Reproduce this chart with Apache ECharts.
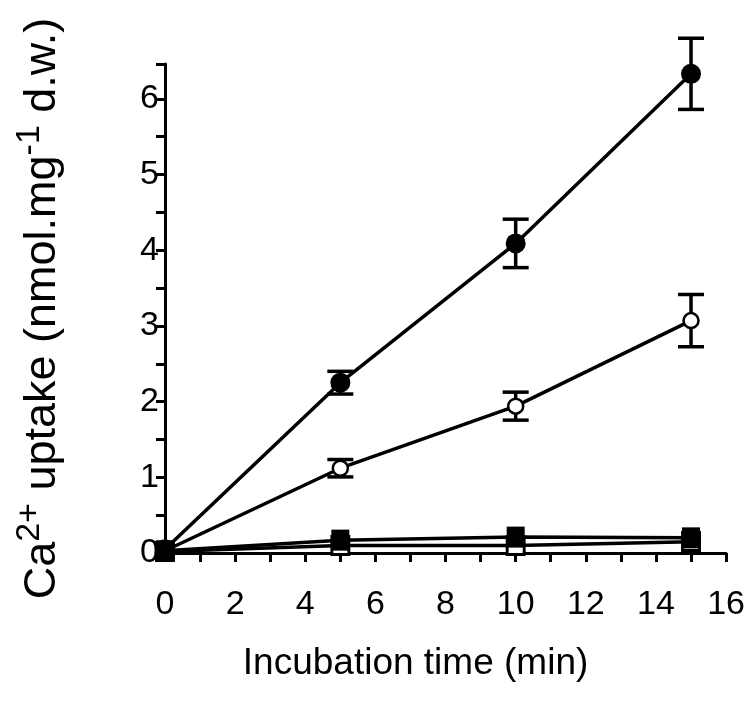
<!DOCTYPE html>
<html>
<head>
<meta charset="utf-8">
<script src="https://cdn.jsdelivr.net/npm/echarts@6/dist/echarts.min.js"></script>
<style>
html,body{margin:0;padding:0;background:#fff;}
#chart{width:748px;height:704px;}
</style>
</head>
<body>
<div id="chart"></div>
<script>
// ---- data ----
const times = [0, 5, 10, 15];
const filledCircle = [0.05, 2.25, 4.09, 6.33];
const filledCircleErr = [0, 0.15, 0.32, 0.47];
const openCircle = [0.03, 1.12, 1.94, 3.07];
const openCircleErr = [0, 0.115, 0.185, 0.345];
const filledSquare = [0.03, 0.17, 0.21, 0.20];
const openSquare = [0.02, 0.10, 0.10, 0.15];
const xTickLabels = [0, 2, 4, 6, 8, 10, 12, 14, 16];
const yTickLabels = [0, 1, 2, 3, 4, 5, 6];

const pairs = (ys) => times.map((t, i) => [t, ys[i]]);
const errs = (ys, es) => times.map((t, i) => [t, ys[i] - es[i], ys[i] + es[i]]);

const FONT = 'Liberation Sans, Arial, Helvetica, sans-serif';

function errorBar(params, api) {
  const x = api.value(0), lo = api.value(1), hi = api.value(2);
  if (!(hi > lo)) return null;
  const a = api.coord([x, lo]);
  const b = api.coord([x, hi]);
  const w = 13;
  const st = { stroke: '#000', lineWidth: 3.5 };
  return {
    type: 'group',
    children: [
      { type: 'line', shape: { x1: a[0], y1: a[1], x2: b[0], y2: b[1] }, style: st },
      { type: 'line', shape: { x1: a[0] - w, y1: a[1], x2: a[0] + w, y2: a[1] }, style: st },
      { type: 'line', shape: { x1: b[0] - w, y1: b[1], x2: b[0] + w, y2: b[1] }, style: st }
    ]
  };
}

const lineBase = {
  type: 'line',
  lineStyle: { color: '#000', width: 3.5 },
  animation: false,
  z: 3
};

const chart = echarts.init(document.getElementById('chart'), null, { renderer: 'canvas' });
chart.setOption({
  animation: false,
  backgroundColor: '#fff',
  textStyle: { fontFamily: FONT },
  grid: { left: 165, right: 15, top: 64, bottom: 151, containLabel: false },
  xAxis: {
    type: 'value', min: 0, max: 16, interval: 1,
    axisLine: { onZero: false, lineStyle: { color: '#000', width: 3 } },
    axisTick: { show: true, inside: false, length: 9, lineStyle: { color: '#000', width: 3 } },
    axisLabel: {
      color: '#000', fontSize: 34, fontFamily: FONT, margin: 35,
      formatter: v => xTickLabels.indexOf(v) >= 0 ? String(v) : ''
    },
    splitLine: { show: false },
    name: 'Incubation time (min)',
    nameLocation: 'middle', nameGap: 92,
    nameTextStyle: { color: '#000', fontSize: 37, fontFamily: FONT, padding: [0, 60, 0, 0] }
  },
  yAxis: {
    type: 'value', min: 0, max: 6.46, interval: 0.5,
    axisLine: { onZero: false, lineStyle: { color: '#000', width: 3 } },
    axisTick: { show: true, inside: false, length: 9, lineStyle: { color: '#000', width: 3 } },
    axisLabel: {
      color: '#000', fontSize: 34, fontFamily: FONT, margin: 6,
      formatter: v => yTickLabels.indexOf(v) >= 0 ? String(v) : ''
    },
    splitLine: { show: false },
    name: '{n|Ca}{s|2+}{n| uptake (nmol.mg}{s|-1}{n| d.w.)}',
    nameLocation: 'middle', nameGap: 100, nameRotate: 90,
    nameTextStyle: {
      color: '#000', fontFamily: FONT,
      rich: {
        n: { fontSize: 45, fontFamily: FONT, color: '#000', verticalAlign: 'bottom', lineHeight: 52 },
        s: { fontSize: 34, fontFamily: FONT, color: '#000', verticalAlign: 'top', lineHeight: 52, padding: [0, 0, 14, 0] }
      }
    }
  },
  series: [
    Object.assign({}, lineBase, {
      name: 'open square', data: pairs(openSquare),
      symbol: 'rect', symbolSize: [17, 18],
      itemStyle: { color: '#fff', borderColor: '#000', borderWidth: 3 }
    }),
    Object.assign({}, lineBase, {
      name: 'filled square', data: pairs(filledSquare),
      symbol: 'rect', symbolSize: [18, 21],
      itemStyle: { color: '#000', borderColor: '#000', borderWidth: 0 }
    }),
    Object.assign({}, lineBase, {
      name: 'open circle', data: pairs(openCircle),
      symbol: 'circle', symbolSize: 15,
      itemStyle: { color: '#fff', borderColor: '#000', borderWidth: 2.5 }
    }),
    Object.assign({}, lineBase, {
      name: 'filled circle', data: pairs(filledCircle),
      symbol: 'circle', symbolSize: 20,
      itemStyle: { color: '#000', borderColor: '#000', borderWidth: 0 }
    }),
    {
      type: 'custom', name: 'filled circle err', renderItem: errorBar,
      data: errs(filledCircle, filledCircleErr), z: 2, animation: false,
      encode: { x: 0, y: [1, 2] }
    },
    {
      type: 'custom', name: 'open circle err', renderItem: errorBar,
      data: errs(openCircle, openCircleErr), z: 2, animation: false,
      encode: { x: 0, y: [1, 2] }
    }
  ]
});
</script>
</body>
</html>
